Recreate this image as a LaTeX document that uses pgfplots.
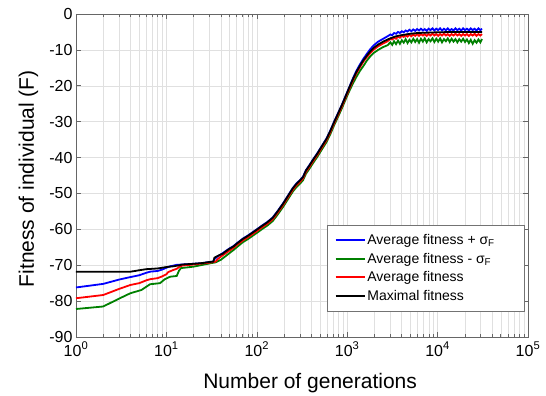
\documentclass[border=0pt]{standalone}
\usepackage{fontspec}
\setmainfont{Liberation Sans}
\usepackage{pgfplots}
\pgfplotsset{compat=1.18}
\definecolor{mblue}{RGB}{0,0,255}
\definecolor{mgreen}{RGB}{0,128,0}
\definecolor{mred}{RGB}{255,0,0}
\begin{document}
\begin{tikzpicture}
\begin{axis}[
  scale only axis, width=452pt, height=323pt,
  xmode=log, xmin=1, xmax=100000, ymin=-90, ymax=0,
  xtick={1,10,100,1000,10000,100000},
  xticklabels={10\textsuperscript{0},10\textsuperscript{1},10\textsuperscript{2},10\textsuperscript{3},10\textsuperscript{4},10\textsuperscript{5}},
  minor xtick={2,3,4,5,6,7,8,9,20,30,40,50,60,70,80,90,200,300,400,500,600,700,800,900,2000,3000,4000,5000,6000,7000,8000,9000,20000,30000,40000,50000,60000,70000,80000,90000},
  ytick={-90,-80,-70,-60,-50,-40,-30,-20,-10,0},
  yticklabels={-90,-80,-70,-60,-50,-40,-30,-20,-10,0},
  grid=both,
  major grid style={black!12, line width=0.5pt},
  minor grid style={black!12, line width=0.5pt},
  axis line style={black!60, line width=0.8pt},
  tick style={black!60, line width=0.6pt},
  major tick length=5pt, minor tick length=3pt,
  tick label style={font=\fontsize{16}{16}\selectfont},
  xticklabel style={yshift=-1.5pt},
  xlabel={Number of generations},
  ylabel={Fitness of individual (F)},
  label style={font=\fontsize{21}{21}\selectfont},
  xlabel style={at={(axis description cs:0.518,-0.158)}, anchor=base},
  ylabel style={at={(axis description cs:-0.093,0.49)}, anchor=base},
  legend style={at={(rel axis cs:0.991,0.0805)}, anchor=south east, draw=black!55, fill=white,
    font=\fontsize{14}{16}\selectfont, inner xsep=7pt, inner ysep=7pt, row sep=3pt,
    cells={anchor=west}},
  legend image code/.code={\draw[#1] (0pt,0pt) -- (29pt,0pt);},
  every axis plot/.append style={line width=1.8pt},
]
% Average + sigma
\addplot[mblue] coordinates {
(1,-76.2) (2,-75.2) (3,-74.0) (4,-73.3) (5,-72.8) (6,-72.1) (6.6,-71.8) (8,-71.6) (9,-71.2) (10,-70.7) (11,-70.3) (13,-69.9) (15,-69.8) (20,-69.6) (25,-69.4) (30,-69.1) (33,-69.0) (34,-68.3) (37,-67.5) (40,-67.0) (45,-66.1) (50,-65.3) (55,-64.7) (60,-63.9)
(70,-62.6) (80,-61.7) (90,-60.8) (100,-60.0) (115,-58.9) (130,-58.0) (150,-56.7) (170,-54.9) (196,-52.7) (220,-50.7) (250,-48.5) (275,-47.2) (300,-46.3) (325,-45.3) (350,-43.5) (380,-42.2) (420,-40.5) (470,-38.7) (520,-36.9) (590,-34.7) (650,-32.5) (720,-29.9) (800,-27.4) (880,-25.1) (950,-23.1) (1050,-20.5) (1150,-18.1) (1260,-15.9) (1380,-14.1) (1500,-12.6) (1650,-11.1) (1800,-9.8) (1950,-8.8) (2200,-7.7) (2500,-6.9) (2800,-6.2)
(3000,-5.7) (3150,-5.9) (3300,-5.3) (3470,-5.5) (3650,-5.0) (3830,-5.3) (4020,-4.8) (4220,-5.1) (4430,-4.6) (4650,-4.9) (4880,-4.4) (5130,-4.8) (5380,-4.3) (5650,-4.7) (5930,-4.2) (6230,-4.6) (6540,-4.1) (6870,-4.6) (7210,-4.2) (7570,-4.7) (7950,-4.1) (8350,-4.5) (8770,-4.0) (9210,-4.6) (9670,-4.1) (10150,-4.5) (10660,-4.0) (11190,-4.6) (11750,-4.1) (12340,-4.5) (12960,-4.0) (13610,-4.6) (14290,-4.2) (15000,-4.6) (15750,-4.0) (16540,-4.5) (17370,-4.1) (18240,-4.6) (19150,-4.0) (20110,-4.5) (21110,-4.1) (22170,-4.6) (23280,-4.0) (24440,-4.5) (25660,-4.1) (26950,-4.6) (28290,-4.0) (29710,-4.5) (31000,-4.1)
};
\addlegendentry{Average fitness + σ\textsubscript{F}\hspace*{20pt}}
% Average - sigma
\addplot[mgreen] coordinates {
(1,-82.2) (2,-81.5) (3,-79.3) (4,-77.8) (5.3,-76.9) (6.6,-75.3) (8.5,-75.0) (9.6,-73.9) (11,-73.2) (13,-73.0) (13.8,-71.5) (14.5,-70.8) (20,-70.4) (25,-69.9) (30,-69.5) (35,-69.2) (40,-68.5) (45,-67.5) (50,-66.6) (55,-65.8) (60,-65.0)
(70,-63.6) (80,-62.7) (90,-61.8) (100,-61.0) (115,-59.9) (130,-59.0) (150,-57.7) (170,-55.9) (196,-53.7) (220,-51.7) (250,-49.5) (275,-48.2) (300,-47.3) (325,-46.3) (350,-44.5) (380,-43.2) (420,-41.5) (470,-39.7) (520,-37.9) (590,-35.7) (650,-33.5) (720,-30.9) (800,-28.4) (880,-26.1) (950,-24.1) (1050,-21.6) (1150,-19.5) (1260,-17.6) (1380,-15.9) (1500,-14.6) (1650,-13.0) (1800,-11.8) (1950,-10.9) (2200,-10.0) (2500,-9.2) (2800,-8.7)
(3000,-7.9) (3150,-8.6) (3300,-7.6) (3470,-8.4) (3650,-7.4) (3830,-8.3) (4020,-7.3) (4220,-8.0) (4430,-7.0) (4650,-8.1) (4880,-7.2) (5130,-7.9) (5380,-6.9) (5650,-7.8) (5930,-7.0) (6230,-8.0) (6540,-6.9) (6870,-7.7) (7210,-6.8) (7570,-7.9) (7950,-7.0) (8350,-7.6) (8770,-6.8) (9210,-7.8) (9670,-6.9) (10150,-7.7) (10660,-6.8) (11190,-7.9) (11750,-7.0) (12340,-7.6) (12960,-6.8) (13610,-7.8) (14290,-6.9) (15000,-7.7) (15750,-7.0) (16540,-7.9) (17370,-7.0) (18240,-7.7) (19150,-6.9) (20110,-7.8) (21110,-7.1) (22170,-8.1) (23280,-7.2) (24440,-8.3) (25660,-7.3) (26950,-8.0) (28290,-7.1) (29710,-7.9) (31000,-7.0)
};
\addlegendentry{Average fitness - σ\textsubscript{F}}
% Average
\addplot[mred] coordinates {
(1,-79.2) (2,-78.3) (3,-76.6) (4,-75.5) (5,-75.0) (6,-74.2) (6.6,-73.9) (8,-73.6) (9,-73.1) (10,-72.5) (10.5,-71.9) (12,-71.3) (13,-71.0) (14,-70.4) (15,-70.1) (20,-69.8) (25,-69.5) (30,-69.3) (35,-69.0) (37,-68.3) (40,-67.6) (45,-66.7) (50,-65.9) (55,-65.2) (60,-64.4)
(70,-63.1) (80,-62.2) (90,-61.3) (100,-60.5) (115,-59.4) (130,-58.5) (150,-57.2) (170,-55.4) (196,-53.2) (220,-51.2) (250,-49.0) (275,-47.7) (300,-46.8) (325,-45.8) (350,-44.0) (380,-42.7) (420,-41.0) (470,-39.2) (520,-37.4) (590,-35.2) (650,-33.0) (720,-30.4) (800,-27.9) (880,-25.6) (950,-23.6) (1050,-21.0) (1150,-18.7) (1260,-16.6) (1380,-14.9) (1500,-13.4) (1650,-12.0) (1800,-10.9) (1950,-10.0) (2200,-9.0) (2500,-8.2) (2800,-7.6)
(3000,-6.9) (3150,-7.1) (3300,-6.6) (3470,-6.9) (3650,-6.3) (3830,-6.6) (4020,-6.1) (4220,-6.4) (4430,-5.9) (4650,-6.3) (4880,-5.8) (5130,-6.2) (5380,-5.7) (5650,-6.1) (5930,-5.6) (6230,-6.1) (6540,-5.6) (6870,-6.0) (7210,-5.6) (7570,-6.1) (7950,-5.6) (8350,-6.0) (8770,-5.5) (9210,-6.0) (9670,-5.6) (10150,-6.1) (10660,-5.6) (11190,-6.0) (11750,-5.5) (12340,-6.0) (12960,-5.6) (13610,-6.1) (14290,-5.6) (15000,-6.0) (15750,-5.5) (16540,-6.0) (17370,-5.6) (18240,-6.1) (19150,-5.6) (20110,-6.0) (21110,-5.6) (22170,-6.1) (23280,-5.6) (24440,-6.0) (25660,-5.5) (26950,-6.1) (28290,-5.6) (29710,-6.0) (31000,-5.6)
};
\addlegendentry{Average fitness}
% Maximal
\addplot[black] coordinates {
(1,-71.8) (2,-71.8) (3,-71.8) (4,-71.8) (4.5,-71.6) (5,-71.4) (6,-71.1) (7,-71.0) (8,-70.9) (9,-70.7) (10,-70.5) (12,-70.3) (14,-70.0) (15,-69.8) (20,-69.6) (25,-69.4) (30,-69.1) (33,-69.0) (34,-67.9) (37,-67.4) (40,-67.0) (42,-66.8) (45,-66.2) (50,-65.4) (55,-64.8) (60,-64.0)
(70,-62.7) (80,-61.8) (90,-60.9) (100,-60.1) (115,-59.0) (130,-58.1) (150,-56.8) (170,-55.0) (196,-52.8) (220,-50.8) (250,-48.6) (275,-47.3) (300,-46.4) (325,-45.4) (350,-43.6) (380,-42.3) (420,-40.6) (470,-38.8) (520,-37.0) (590,-34.8) (650,-32.6) (720,-30.0) (800,-27.5) (880,-25.2) (950,-23.2) (1050,-20.6) (1150,-18.3) (1260,-16.2) (1380,-14.5) (1500,-13.0) (1650,-11.6) (1800,-10.4) (1950,-9.5) (2200,-8.5) (2500,-7.7) (2800,-7.1)
(3200,-6.5) (3600,-6.1) (4200,-5.8) (5000,-5.5) (6000,-5.3) (7500,-5.2) (10000,-5.1) (15000,-5.0) (20000,-5.0) (25000,-5.0) (31000,-5.0)
};
\addlegendentry{Maximal fitness}
\end{axis}
\path (current axis.south west) +(-76pt,-59pt) coordinate (bl);
\path (current axis.north east) +(18pt,14pt) coordinate (tr);
\path (bl) rectangle (tr);
\end{tikzpicture}
\end{document}
